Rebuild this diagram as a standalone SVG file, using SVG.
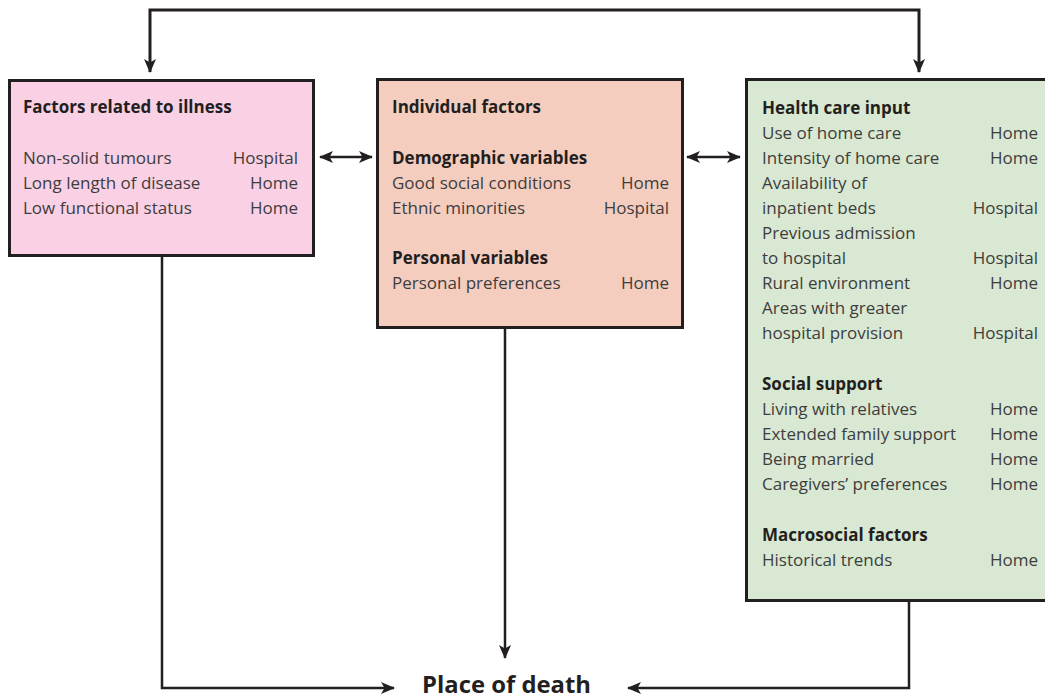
<svg xmlns="http://www.w3.org/2000/svg" width="1045" height="700" viewBox="0 0 1045 700">
<style>
.box{stroke:#231f20;stroke-width:3}
.t{font-family:"Open Sans","Noto Sans",sans-serif;font-size:17px;fill:#3d3d3d}
.b{font-family:"Open Sans","Noto Sans",sans-serif;font-size:17px;font-weight:bold;fill:#231f20}
.r{text-anchor:end}
.c{fill:none;stroke:#231f20;stroke-width:3}
.main{font-family:"Open Sans","Noto Sans",sans-serif;font-size:24px;font-weight:bold;fill:#231f20}
</style>
<defs>
<marker id="ah" viewBox="0 0 14 12" refX="13" refY="6" markerWidth="14" markerHeight="12" markerUnits="userSpaceOnUse" orient="auto-start-reverse">
<path d="M0,0 L14,6 L0,12 L3.5,6 Z" fill="#231f20"/>
</marker>
</defs>
<rect width="1045" height="700" fill="#ffffff"/>
<g id="connectors">
<path class="c" d="M150,72 V10 H919 V72" marker-start="url(#ah)" marker-end="url(#ah)"/>
<path class="c" style="stroke-width:2.5" d="M320,157 H372" marker-start="url(#ah)" marker-end="url(#ah)"/>
<path class="c" style="stroke-width:2.5" d="M687,157 H740" marker-start="url(#ah)" marker-end="url(#ah)"/>
<path class="c" style="stroke-width:2.5" d="M162,256 V688 H394" marker-end="url(#ah)"/>
<path class="c" style="stroke-width:2.5" d="M505,329 V658" marker-end="url(#ah)"/>
<path class="c" style="stroke-width:2.5" d="M909,601 V688 H628" marker-end="url(#ah)"/>
</g>
<g id="illness">
<rect class="box" x="9.5" y="80.5" width="304" height="175" fill="#f9d0e4"/>
<text class="b" x="23" y="113">Factors related to illness</text>
<text class="t" x="23" y="164">Non-solid tumours</text>
<text class="t r" x="298" y="164">Hospital</text>
<text class="t" x="23" y="189">Long length of disease</text>
<text class="t r" x="298" y="189">Home</text>
<text class="t" x="23" y="214">Low functional status</text>
<text class="t r" x="298" y="214">Home</text>
</g>
<g id="individual">
<rect class="box" x="377.5" y="79.5" width="305" height="248" fill="#f5cdbf"/>
<text class="b" x="392" y="113">Individual factors</text>
<text class="b" x="392" y="164">Demographic variables</text>
<text class="t" x="392" y="189">Good social conditions</text>
<text class="t r" x="669" y="189">Home</text>
<text class="t" x="392" y="214">Ethnic minorities</text>
<text class="t r" x="669" y="214">Hospital</text>
<text class="b" x="392" y="264">Personal variables</text>
<text class="t" x="392" y="289">Personal preferences</text>
<text class="t r" x="669" y="289">Home</text>
</g>
<g id="healthcare">
<rect class="box" x="746.5" y="79.5" width="310" height="521" fill="#d9e8d2"/>
<text class="b" x="762" y="114">Health care input</text>
<text class="t" x="762" y="139">Use of home care</text>
<text class="t r" x="1038" y="139">Home</text>
<text class="t" x="762" y="164">Intensity of home care</text>
<text class="t r" x="1038" y="164">Home</text>
<text class="t" x="762" y="189">Availability of</text>
<text class="t" x="762" y="214">inpatient beds</text>
<text class="t r" x="1038" y="214">Hospital</text>
<text class="t" x="762" y="239">Previous admission</text>
<text class="t" x="762" y="264">to hospital</text>
<text class="t r" x="1038" y="264">Hospital</text>
<text class="t" x="762" y="289">Rural environment</text>
<text class="t r" x="1038" y="289">Home</text>
<text class="t" x="762" y="314">Areas with greater</text>
<text class="t" x="762" y="339">hospital provision</text>
<text class="t r" x="1038" y="339">Hospital</text>
<text class="b" x="762" y="390">Social support</text>
<text class="t" x="762" y="415">Living with relatives</text>
<text class="t r" x="1038" y="415">Home</text>
<text class="t" x="762" y="440">Extended family support</text>
<text class="t r" x="1038" y="440">Home</text>
<text class="t" x="762" y="465">Being married</text>
<text class="t r" x="1038" y="465">Home</text>
<text class="t" x="762" y="490">Caregivers’ preferences</text>
<text class="t r" x="1038" y="490">Home</text>
<text class="b" x="762" y="541">Macrosocial factors</text>
<text class="t" x="762" y="566">Historical trends</text>
<text class="t r" x="1038" y="566">Home</text>
</g>
<g id="place">
<text class="main" x="422" y="693" textLength="169" lengthAdjust="spacingAndGlyphs">Place of death</text>
</g>
</svg>
